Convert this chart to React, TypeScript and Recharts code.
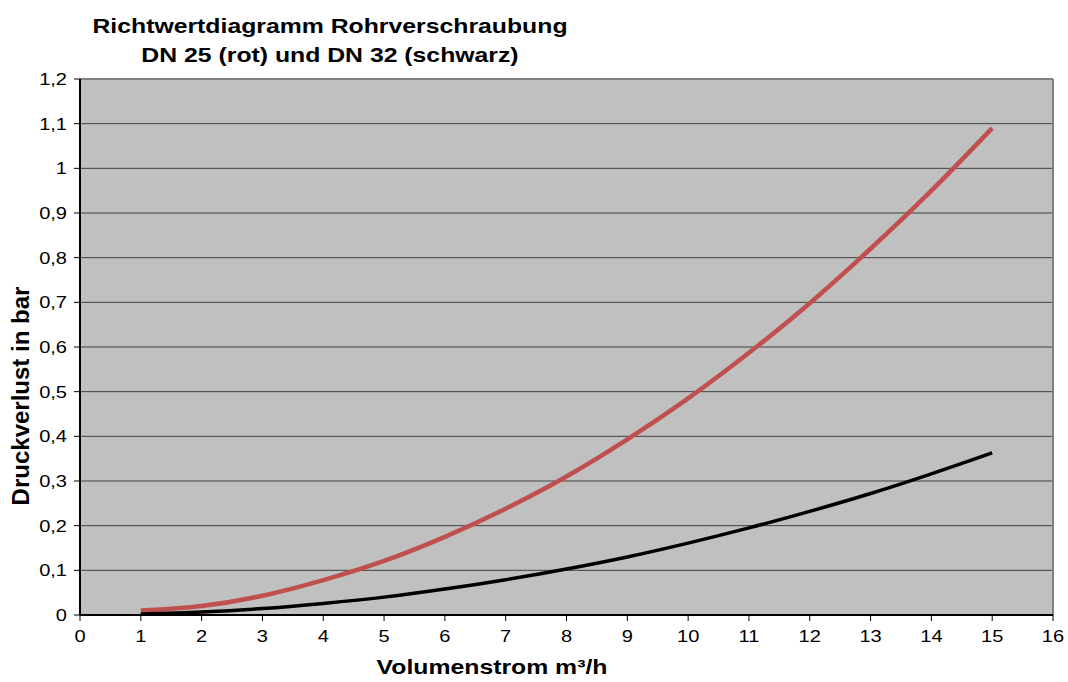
import React from 'react';
import { LineChart, Line, XAxis, YAxis, CartesianGrid, ReferenceLine } from 'recharts';

const volumenstrom = [1, 2, 3, 4, 5, 6, 7, 8, 9, 10, 11, 12, 13, 14, 15];
const dn25 = [0.01, 0.02, 0.043, 0.078, 0.121, 0.175, 0.238, 0.31, 0.393, 0.485, 0.587, 0.698, 0.82, 0.95, 1.09];
const dn32 = [0.002, 0.0065, 0.0145, 0.026, 0.04, 0.058, 0.079, 0.103, 0.13, 0.161, 0.195, 0.232, 0.272, 0.316, 0.363];
const xTicks = [0, 1, 2, 3, 4, 5, 6, 7, 8, 9, 10, 11, 12, 13, 14, 15, 16];
const yTicks = [0, 0.1, 0.2, 0.3, 0.4, 0.5, 0.6, 0.7, 0.8, 0.9, 1, 1.1, 1.2];

const data = volumenstrom.map((x, i) => ({ x, dn25: dn25[i], dn32: dn32[i] }));

const font = '"Liberation Sans", Arial, sans-serif';
const SX = 1.18;

const fmt = (v: number) => String(Math.round(v * 10) / 10).replace('.', ',');

const XTick = (props: any) => {
  const { x, y, payload } = props;
  return (
    <text transform={`translate(${x},${y + 19}) scale(${SX},1)`} textAnchor="middle" fill="#000" fontSize={17} fontFamily={font}>
      {payload.value}
    </text>
  );
};

const YTick = (props: any) => {
  const { x, y, payload } = props;
  return (
    <text transform={`translate(${x - 5},${y + 6}) scale(${SX},1)`} textAnchor="end" fill="#000" fontSize={17} fontFamily={font}>
      {fmt(payload.value)}
    </text>
  );
};

export default function App() {
  return (
    <div style={{ position: 'absolute', left: 0, top: 0, width: 1068, height: 682, background: '#fff', fontFamily: font }}>
      <LineChart width={1068} height={682} data={data} margin={{ top: 79, right: 15, bottom: 17, left: 20 }}>
        <CartesianGrid vertical={false} horizontal={true} fill="#C0C0C0" stroke="#404040" strokeWidth={1} />
        <XAxis
          dataKey="x"
          type="number"
          domain={[0, 16]}
          ticks={xTicks}
          interval={0}
          height={50}
          axisLine={{ stroke: '#000', strokeWidth: 2 }}
          tickLine={{ stroke: '#000' }}
          tickSize={6}
          tick={<XTick />}
        />
        <YAxis
          type="number"
          domain={[0, 1.2]}
          ticks={yTicks}
          interval={0}
          width={60}
          axisLine={{ stroke: '#000', strokeWidth: 2 }}
          tickLine={{ stroke: '#000' }}
          tickSize={6}
          tick={<YTick />}
        />
        <ReferenceLine y={1.2} stroke="#808080" strokeWidth={2} />
        <ReferenceLine x={16} stroke="#808080" strokeWidth={2} />
        <Line type="monotone" dataKey="dn25" stroke="#C0504D" strokeWidth={4.5} dot={false} isAnimationActive={false} />
        <Line type="monotone" dataKey="dn32" stroke="#000000" strokeWidth={3.5} dot={false} isAnimationActive={false} />
      </LineChart>
      <div style={{ position: 'absolute', left: 80, width: 500, top: 11, textAlign: 'center', fontWeight: 'bold', fontSize: 21, lineHeight: '29px', color: '#000', transform: `scaleX(${SX})` }}>
        Richtwertdiagramm Rohrverschraubung<br />DN 25 (rot) und DN 32 (schwarz)
      </div>
      <div style={{ position: 'absolute', left: 292, width: 400, top: 655, textAlign: 'center', fontWeight: 'bold', fontSize: 21, lineHeight: '24px', color: '#000', transform: `scaleX(${SX})` }}>
        Volumenstrom m³/h
      </div>
      <div style={{ position: 'absolute', left: 21, top: 396, width: 0, height: 0 }}>
        <div style={{ position: 'absolute', left: -150, top: -14, width: 300, lineHeight: '28px', textAlign: 'center', transform: 'rotate(-90deg)', fontWeight: 'bold', fontSize: 24, color: '#000' }}>
          Druckverlust in bar
        </div>
      </div>
    </div>
  );
}
